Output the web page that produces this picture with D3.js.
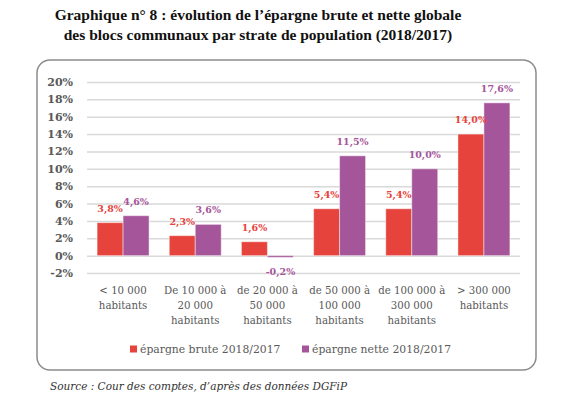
<!DOCTYPE html>
<html>
<head>
<meta charset="utf-8">
<script src="https://cdn.jsdelivr.net/npm/d3@7"></script>
<style>
  body { margin: 0; background: #fff; }
  svg { display: block; }
</style>
</head>
<body>
<svg id="chart" width="575" height="398"></svg>
<script>
// categories (one array of lines per strate)
const categories = [
  ["< 10 000", "habitants"],
  ["De 10 000 à", "20 000", "habitants"],
  ["de 20 000 à", "50 000", "habitants"],
  ["de 50 000 à", "100 000", "habitants"],
  ["de 100 000 à", "300 000", "habitants"],
  ["> 300 000", "habitants"]
];
const brute = [3.8, 2.3, 1.6, 5.4, 5.4, 14.0];
const nette = [4.6, 3.6, -0.2, 11.5, 10.0, 17.6];
const seriesNames = ["épargne brute 2018/2017", "épargne nette 2018/2017"];
const yTicks = [-2, 0, 2, 4, 6, 8, 10, 12, 14, 16, 18, 20];

const RED = "#e6433c", PURPLE = "#a5569b";
const serif = "'DejaVu Serif', serif";

const svg = d3.select("#chart");
const margin = { top: 82, right: 55, bottom: 125, left: 87 };

// title
const title = svg.append("text")
  .attr("x", 258).attr("y", 20)
  .attr("text-anchor", "middle")
  .style("font-family", "'Liberation Serif', serif")
  .style("font-weight", "bold")
  .style("font-size", "15.5px")
  .attr("fill", "#111");
title.append("tspan").attr("x", 258).attr("dy", 0)
  .text("Graphique n° 8 : évolution de l’épargne brute et nette globale");
title.append("tspan").attr("x", 258).attr("dy", 20)
  .text("des blocs communaux par strate de population (2018/2017)");

// frame
svg.append("rect")
  .attr("x", 37).attr("y", 60)
  .attr("width", 499).attr("height", 310)
  .attr("rx", 13).attr("ry", 13)
  .attr("fill", "none")
  .attr("stroke", "#8c8c8c")
  .attr("stroke-width", 1.5);

const x = d3.scaleBand()
  .domain(d3.range(categories.length))
  .range([margin.left, 520])
  .paddingInner(0.28)
  .paddingOuter(0.14);

const y = d3.scaleLinear()
  .domain([-2, 20])
  .range([273, margin.top]);

const x1 = d3.scaleBand()
  .domain([0, 1])
  .range([0, x.bandwidth()]);

// y axis + gridlines
const yAxis = g => g
  .attr("transform", `translate(${margin.left},0)`)
  .call(d3.axisLeft(y).tickValues(yTicks).tickSize(-(520 - margin.left)).tickPadding(14).tickFormat(d => d + "%"))
  .call(g => g.select(".domain").remove())
  .call(g => g.selectAll(".tick line").attr("stroke", "#d9d9d9").attr("stroke-width", 1.5))
  .call(g => g.selectAll(".tick text")
    .attr("fill", "#595959")
    .style("font-family", serif)
    .style("font-weight", "bold")
    .style("font-size", "11px"));
svg.append("g").attr("class", "y-axis").call(yAxis);

// bars
const rows = categories.map((c, i) => ({ i, vals: [brute[i], nette[i]] }));
const groups = svg.append("g").attr("class", "plot-area")
  .selectAll("g")
  .data(rows)
  .join("g")
  .attr("transform", d => `translate(${x(d.i)},0)`);

groups.selectAll("rect")
  .data(d => d.vals.map((v, k) => ({ v, k })))
  .join("rect")
  .attr("x", d => x1(d.k))
  .attr("width", x1.bandwidth())
  .attr("y", d => y(Math.max(0, d.v)))
  .attr("height", d => Math.abs(y(d.v) - y(0)))
  .attr("fill", d => d.k === 0 ? RED : PURPLE)
  .attr("stroke", "rgba(255,255,255,0.45)")
  .attr("stroke-width", 1);

groups.selectAll("text")
  .data(d => d.vals.map((v, k) => ({ v, k })))
  .join("text")
  .attr("x", d => x1(d.k) + x1.bandwidth() / 2)
  .attr("y", d => d.v >= 0 ? y(d.v) - 11 : y(d.v) + 18)
  .attr("text-anchor", "middle")
  .attr("fill", d => d.k === 0 ? RED : PURPLE)
  .style("font-family", serif)
  .style("font-weight", "bold")
  .style("font-size", "9.5px")
  .text(d => d.v.toFixed(1).replace(".", ",") + "%");

// x labels
const xl = svg.append("g").attr("class", "x-axis")
  .selectAll("text")
  .data(rows)
  .join("text")
  .attr("text-anchor", "middle")
  .attr("fill", "#595959")
  .style("font-family", serif)
  .style("font-size", "10.2px");
xl.selectAll("tspan")
  .data(d => categories[d.i].map(t => ({ t, cx: x(d.i) + x.bandwidth() / 2 })))
  .join("tspan")
  .attr("x", d => d.cx)
  .attr("y", (d, j) => 294 + j * 15)
  .text(d => d.t);

// legend
const legend = svg.append("g").attr("class", "legend");
const legX = [130, 302];
seriesNames.forEach((name, k) => {
  legend.append("rect")
    .attr("x", legX[k]).attr("y", 345.5)
    .attr("width", 7).attr("height", 7)
    .attr("fill", k === 0 ? RED : PURPLE);
  legend.append("text")
    .attr("x", legX[k] + 10).attr("y", 353)
    .attr("fill", "#595959")
    .style("font-family", serif)
    .style("font-size", "10.8px")
    .text(name);
});

// source
svg.append("text")
  .attr("x", 50).attr("y", 390)
  .attr("fill", "#333")
  .style("font-family", serif)
  .style("font-style", "italic")
  .style("font-size", "10.5px")
  .text("Source : Cour des comptes, d’après des données DGFiP");
</script>
</body>
</html>
